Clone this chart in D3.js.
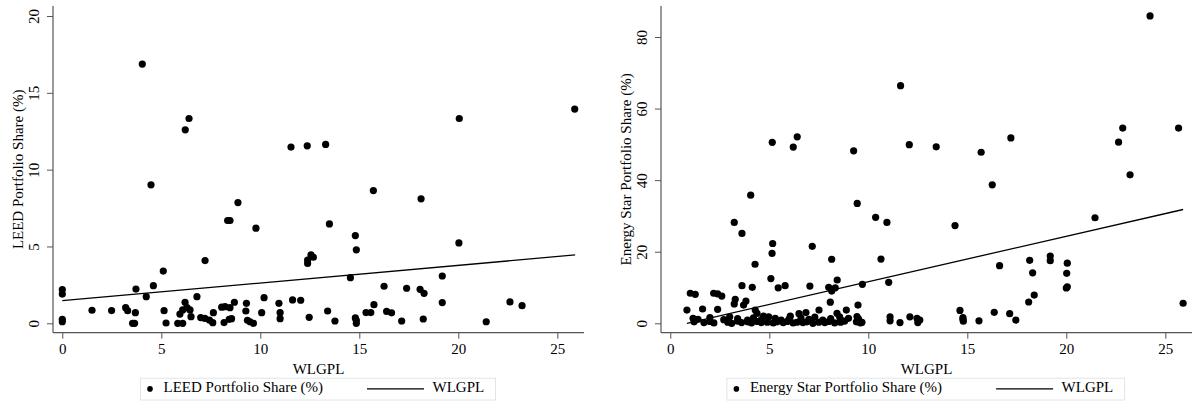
<!DOCTYPE html>
<html>
<head>
<meta charset="utf-8">
<script src="https://cdn.jsdelivr.net/npm/d3@7"></script>
<style>
body { margin: 0; background: #fff; }
svg text { font-family: "Liberation Serif", "Times New Roman", serif; font-size: 15px; fill: #000; }
</style>
</head>
<body>
<svg id="chart" width="1196" height="412"></svg>
<script>

// WLGPL vs LEED portfolio share, [x, y]
var leedPoints = [
  [0,2.2],[0,1.9],[0,0.26],[0,0.1],
  [1.5,0.85],[2.49,0.83],[3.2,1.02],[3.3,0.82],[3.69,0.69],[3.55,0],[3.65,0],
  [3.72,2.23],[4.24,1.73],[4.6,2.45],[5.1,3.4],[5.14,0.82],[5.24,0.02],
  [5.83,0],[6.08,0],[5.94,0.6],[6.08,0.87],[6.2,1.37],[6.3,1.02],[6.45,0.87],[6.5,0.43],
  [6.8,1.73],[6.99,0.37],[7.2,0.32],[7.43,0.21],[7.63,0.69],[7.6,0.04],
  [8.05,1.05],[8.22,1.08],[8.47,1.02],[8.69,1.37],[8.17,0.05],[8.43,0.26],[8.55,0.3],
  [9.3,1.3],[9.27,0.8],[9.35,0.2],[9.48,0.1],[9.65,0.0],
  [10.07,0.69],[10.19,1.67],[10.94,1.3],[11.0,0.69],[11.0,0.3],
  [11.63,1.52],[12.04,1.5],[12.47,0.39],[13.4,0.8],[13.77,0.15],
  [13.49,6.47],[12.39,4.12],[12.39,3.9],[12.56,4.45],[12.68,4.3],
  [14.55,2.97],[14.8,5.71],[14.85,4.78],[14.8,0.35],[14.85,0.2],[14.85,0.0],
  [15.34,0.7],[15.58,0.7],[15.74,1.21],[15.71,8.64],[16.25,2.41],[16.38,0.77],[16.63,0.68],
  [17.14,0.15],[17.39,2.28],[18.07,2.21],[18.27,1.95],[18.12,8.1],[18.23,0.28],
  [19.19,3.08],[19.19,1.35],[20.03,5.23],[21.41,0.1],[22.61,1.39],[23.22,1.15],
  [4.04,16.87],[6.4,13.33],[6.21,12.59],[11.55,11.47],[12.37,11.55],[13.3,11.64],
  [20.05,13.33],[25.88,13.94],
  [4.48,9.01],[8.87,7.86],[8.35,6.69],[8.47,6.69],[9.78,6.19],[7.21,4.08]
];

// WLGPL vs Energy Star portfolio share, [x, y]
var energyPoints = [
  [5.15,50.56],[6.21,49.25],[6.41,52.1],[9.26,48.2],[11.63,66.4],[12.07,49.9],[13.43,49.3],
  [15.7,47.8],[17.2,51.8],[22.64,50.6],[22.85,54.55],[24.23,85.9],[25.67,54.55],[23.22,41.5],
  [16.26,38.7],[14.38,27.3],[21.45,29.5],[16.63,16.1],[18.15,17.6],[18.3,14.1],[19.19,18.8],
  [19.19,17.5],[20.05,16.8],[20.02,13.96],[20.0,9.86],[20.05,10.2],[18.1,5.95],[18.38,7.9],[25.9,5.6],
  [14.63,3.6],[14.78,1.6],[14.78,1.1],[14.8,0.6],[15.59,0.7],[16.36,3.07],[17.14,2.7],[17.45,0.9],
  [11.1,1.8],[11.1,0.7],[11.6,0.2],[12.1,1.8],[12.46,1.4],[12.6,0.9],[12.5,0.2],
  [4.06,35.8],[3.23,28.2],[3.62,25.1],[9.44,33.5],[10.37,29.6],[10.94,28.2],[5.17,22.3],
  [5.14,19.55],[7.17,21.5],[8.15,17.9],[10.64,17.96],[4.28,16.5],[5.08,12.5],[5.45,9.9],
  [5.8,10.5],[3.62,10.5],[4.14,10.05],[7.05,10.4],[8.0,10.05],[8.15,9.0],[8.33,9.9],[8.43,12.1],
  [9.7,10.9],[11.03,11.45],[8.08,5.9],[9.48,5.1],[7.51,3.7],[8.89,3.7],
  [1.01,8.4],[1.26,8.1],[2.19,8.4],[2.39,8.2],[2.6,7.6],[0.84,3.7],[1.63,4.0],[2.39,3.9],[1.15,1.4],
  [3.28,6.7],[3.23,5.4],[3.82,6.2],[3.7,5.1],[6.85,3.0],[6.06,2.0],[4.29,3.7],[4.38,2.8],
  [4.71,2.0],[4.97,1.8],[6.5,2.7],[8.42,2.8],[8.55,1.8],[9.43,1.9],[9.51,1.2],[9.68,0.3],
  [1.2,0.4],[1.7,0.2],[2.0,0.5],[2.2,0.1],[2.9,0.3],[3.1,0.0],[3.4,0.6],[3.6,0.2],[3.9,0.4],
  [4.1,0.1],[4.4,0.5],[4.6,0.2],[4.9,0.3],[5.2,0.1],[5.4,0.4],[5.7,0.2],[5.9,0.5],[6.2,0.1],
  [6.4,0.3],[6.7,0.2],[6.9,0.4],[7.2,0.0],[7.5,0.3],[7.8,0.2],[8.0,0.5],[8.3,0.1],[8.6,0.3],
  [8.8,0.6],[9.4,0.4],[9.6,0.1],
  [1.4,1.1],[2.0,1.6],[2.7,1.0],[3.0,1.8],[3.4,1.3],[3.9,0.9],[4.2,1.5],[4.6,1.0],[5.3,1.4],
  [5.6,0.9],[6.0,1.2],[6.6,1.5],[7.0,1.1],[7.3,1.7],[7.7,0.9],[8.1,1.3],[8.6,1.0],[9.0,1.4]
];

// fitted line end points
var leedFit = [[0,1.47],[25.9,4.45]];
var energyFit = [[0.84,0.0],[25.9,31.8]];

var xTicks = [0,5,10,15,20,25];
var leedTicks = [0,5,10,15,20];
var energyTicks = [0,20,40,60,80];

var xTitle = "WLGPL";
var leedTitle = "LEED Portfolio Share (%)";
var energyTitle = "Energy Star Portfolio Share (%)";
var lineLabel = "WLGPL";

var svg = d3.select("#chart");
var serif = "'Liberation Serif', 'Times New Roman', serif";

function draw_panel(p) {

  var g = svg.append("g");

  var x = d3.scaleLinear().domain([0,25]).range([p.left + 9.3, p.left + 504.3]);
  var y = d3.scaleLinear().domain(p.yDomain).range([323.3, p.yTop]);

  var top = 6, bottom = 332.7, right = p.left + 531;

  // y axis, labels run upwards like stata
  var yAxis = g.append("g")
      .attr("transform", "translate(" + p.left + ",0)")
      .call(d3.axisLeft(y).tickValues(p.yTicks).tickSize(6).tickFormat(d3.format("d")));
  yAxis.attr("font-family", null).attr("font-size", null);
  yAxis.select(".domain").remove();
  yAxis.selectAll("line").attr("stroke", "#555");
  yAxis.selectAll("text")
      .attr("transform", "rotate(-90)")
      .attr("text-anchor", "middle")
      .attr("x", 0).attr("y", -14).attr("dy", 0)
      .style("font-family", serif)
      .style("font-size", "15px");
  g.append("line")
      .attr("x1", p.left).attr("x2", p.left)
      .attr("y1", top).attr("y2", bottom)
      .attr("stroke", "#555").attr("stroke-width", 1.2);

  // x axis
  var xAxis = g.append("g")
      .attr("transform", "translate(0," + bottom + ")")
      .call(d3.axisBottom(x).tickValues(xTicks).tickSize(6).tickPadding(5));
  xAxis.attr("font-family", null).attr("font-size", null);
  xAxis.select(".domain").remove();
  xAxis.selectAll("line").attr("stroke", "#555");
  xAxis.selectAll("text")
      .style("font-family", serif)
      .style("font-size", "15px");
  g.append("line")
      .attr("x1", p.left).attr("x2", right)
      .attr("y1", bottom).attr("y2", bottom)
      .attr("stroke", "#555").attr("stroke-width", 1.2);

  // titles
  g.append("text")
      .attr("transform", "translate(" + (p.left - 30) + "," + ((top + bottom) / 2) + ") rotate(-90)")
      .attr("text-anchor", "middle")
      .text(p.yTitle);
  g.append("text")
      .attr("x", (p.left + right) / 2).attr("y", 373.6)
      .attr("text-anchor", "middle")
      .text(xTitle);

  // points
  g.selectAll(".dot")
      .data(p.points)
      .enter().append("circle")
      .attr("class", "dot")
      .attr("cx", function(d) { return x(d[0]); })
      .attr("cy", function(d) { return y(d[1]); })
      .attr("r", 3.6)
      .attr("fill", "#000");

  // fit line
  g.append("path")
      .datum(p.fit)
      .attr("d", d3.line().x(function(d) { return x(d[0]); }).y(function(d) { return y(d[1]); }))
      .attr("fill", "none").attr("stroke", "#000").attr("stroke-width", 1.3);

  // legend
  var lg = g.append("g").attr("transform", "translate(" + p.legendX + ",378.2)");
  lg.append("rect")
      .attr("width", p.legendW).attr("height", 21.8)
      .attr("fill", "#fff").attr("stroke", "#dde6ea");
  lg.append("circle").attr("cx", 9.5).attr("cy", 10.7).attr("r", 2.8).attr("fill", "#000");
  lg.append("text").attr("x", 23).attr("y", 14.1).text(p.yTitle);
  lg.append("line")
      .attr("x1", p.legendW - 128.5).attr("x2", p.legendW - 71.5)
      .attr("y1", 10.7).attr("y2", 10.7)
      .attr("stroke", "#000").attr("stroke-width", 1.3);
  lg.append("text").attr("x", p.legendW - 63).attr("y", 14.1).text(lineLabel);
}

draw_panel({
  left: 53, yDomain: [0,20], yTop: 16, yTicks: leedTicks,
  points: leedPoints, fit: leedFit, yTitle: leedTitle,
  legendX: 140.5, legendW: 355
});

draw_panel({
  left: 661, yDomain: [0,80], yTop: 37, yTicks: energyTicks,
  points: energyPoints, fit: energyFit, yTitle: energyTitle,
  legendX: 726.9, legendW: 397.7
});

</script>
</body>
</html>
